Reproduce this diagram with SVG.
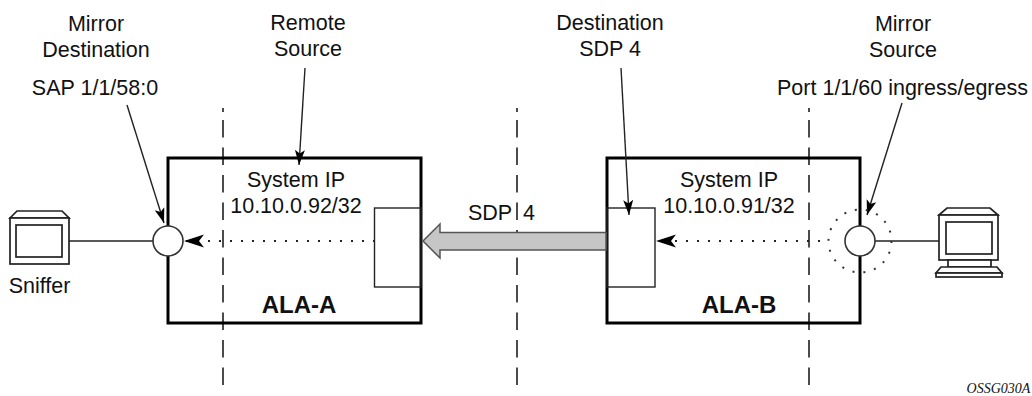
<svg xmlns="http://www.w3.org/2000/svg" width="1032" height="396" viewBox="0 0 1032 396">
<defs>
<marker id="ah" markerUnits="userSpaceOnUse" markerWidth="16" markerHeight="12" refX="15" refY="6" orient="auto"><path d="M0,1 L15,6 L0,11 L3.500,6 Z" fill="#000"/></marker>
<marker id="ahd" markerUnits="userSpaceOnUse" markerWidth="21" markerHeight="14" refX="20" refY="7" orient="auto"><path d="M0,0.500 L20,7 L0,13.500 L5,7 Z" fill="#000"/></marker>
</defs>
<style>
text{font-family:"Liberation Sans",Arial,sans-serif;font-size:21.500px;fill:#111;text-anchor:middle}
.b{font-weight:bold;font-size:24px}
.box{fill:none;stroke:#000;stroke-width:3}
.thin{fill:none;stroke:#222;stroke-width:1.400}
.icon{fill:#fff;stroke:#222;stroke-width:1.700}
.dash{fill:none;stroke:#111;stroke-width:1.500;stroke-dasharray:17.500 10}
.dot{fill:none;stroke:#222;stroke-width:2;stroke-dasharray:2 9}
.port{fill:#fff;stroke:#333;stroke-width:1.600}
</style>
<rect width="1032" height="396" fill="#fff"/>
<g id="dividers">
<path class="dash" d="M223 108V112M223 120V385"/>
<path class="dash" d="M517 108V112M517 120V385"/>
<path class="dash" d="M809 108V112M809 120V385"/>
</g>
<g id="ALA-A">
<rect class="box" x="168" y="158" width="253" height="165"/>
<rect class="thin" x="374.500" y="208" width="46.500" height="79"/>
<text x="296" y="187">System IP</text>
<text x="296" y="213">10.10.0.92/32</text>
<text class="b" x="299" y="313">ALA-A</text>
</g>
<g id="ALA-B">
<rect class="box" x="607" y="158" width="253" height="165"/>
<rect class="thin" x="607" y="208" width="48" height="79"/>
<text x="729" y="187">System IP</text>
<text x="729" y="213">10.10.0.91/32</text>
<text class="b" x="739" y="313">ALA-B</text>
</g>
<g id="connectors">
<path class="thin" d="M69 241H153"/>
<path class="thin" d="M875 241H939"/>
<path class="thin" d="M127 105L164 223" marker-end="url(#ah)"/>
<path class="thin" d="M305 68L299 165" marker-end="url(#ah)"/>
<path class="thin" d="M621 68L629 215" marker-end="url(#ah)"/>
<path class="thin" d="M902 103L867 215" marker-end="url(#ah)"/>
<path class="dot" d="M375 241H184" marker-end="url(#ahd)"/>
<path class="dot" d="M820 241H656" marker-end="url(#ahd)"/>
</g>
<g id="sdp-tunnel">
<path d="M606 232.500H440V224L423 241L440 258V250H606Z" fill="#c6c6c6" stroke="#555" stroke-width="1.500"/>
<text x="468" y="220" style="text-anchor:start">SDP</text>
<text x="523" y="220" style="text-anchor:start">4</text>
</g>
<g id="port-a"><circle class="port" cx="168" cy="241" r="15"/></g>
<g id="port-b">
<circle class="port" cx="860" cy="241" r="15"/>
<circle cx="860" cy="241" r="31.500" fill="none" stroke="#333" stroke-width="2" stroke-dasharray="2 9"/>
</g>
<g id="sniffer">
<path class="icon" d="M10 218L17 211H62L69 218Z"/>
<rect class="icon" x="10" y="218" width="59" height="46"/>
<rect class="icon" x="16" y="225" width="46" height="32"/>
<text x="39.500" y="293">Sniffer</text>
</g>
<g id="computer">
<path class="icon" d="M939 215L947 208H990L998 215Z"/>
<rect class="icon" x="939" y="215" width="59" height="45"/>
<rect class="icon" x="946" y="222" width="46" height="32"/>
<rect class="icon" x="948" y="260" width="43" height="7"/>
<path class="icon" d="M941 267H997L1002 273H936Z"/>
<rect class="icon" x="936" y="273" width="66" height="4"/>
</g>
<g id="labels">
<text x="96" y="31">Mirror</text>
<text x="96" y="57">Destination</text>
<text x="95" y="95">SAP 1/1/58:0</text>
<text x="308" y="30">Remote</text>
<text x="308" y="56">Source</text>
<text x="610" y="30">Destination</text>
<text x="610" y="56">SDP 4</text>
<text x="903" y="31">Mirror</text>
<text x="903" y="57">Source</text>
<text x="902.500" y="95">Port 1/1/60 ingress/egress</text>
<text x="998.500" y="393" style="font-family:'Liberation Serif',serif;font-style:italic;font-size:14px">OSSG030A</text>
</g>
</svg>
